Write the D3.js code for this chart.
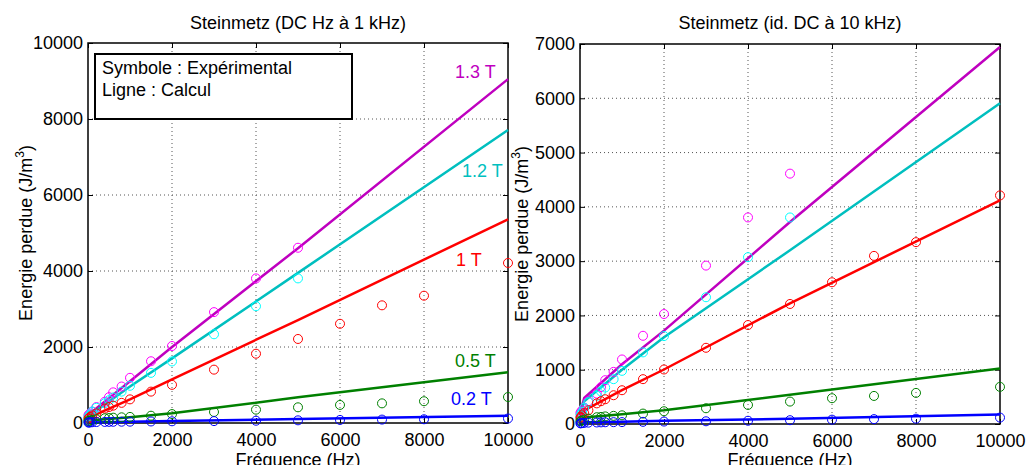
<!DOCTYPE html>
<html><head><meta charset="utf-8">
<script src="https://cdn.jsdelivr.net/npm/d3@7"></script>
<style>
html,body{margin:0;padding:0;background:#fff;}
svg text{font-family:"Liberation Sans",Arial,Helvetica,sans-serif;}
</style></head>
<body><svg id="c" width="1026" height="465"></svg>
<script>
// Experimental frequencies (Hz)
const freqs = [10, 20, 50, 100, 200, 400, 500, 600, 800, 1000, 1500, 2000, 3000, 4000, 5000, 6000, 7000, 8000, 10000];
// Experimental energy (J/m^3) per induction level
const exp13 = [200, 220, 250, 300, 420, 560, 680, 807, 960, 1189, 1625, 2026, 2918, 3805, 4612];
const exp12 = [150, 180, 220, 300, 400, 520, 600, 672, 826, 979, 1319, 1620, 2335, 3073, 3805];
const exp10 = [110, 130, 160, 200, 253, 380, 420, 456, 530, 622, 826, 1004, 1404, 1823, 2211, 2611, 3097, 3350, 4211];
const exp05 = [50, 55, 65, 80, 100, 125, 130, 140, 150, 160, 192, 235, 290, 351, 413, 475, 517, 573, 684];
const exp02 = [12, 14, 16, 20, 25, 28, 30, 32, 34, 35, 40, 45, 50, 60, 70, 80, 90, 98, 118];
// Calculated curves
const calcFreqs = [10, 100, 1000, 2000, 5000, 10000];
const calcA13 = [200, 300, 1100, 2000, 4600, 9050];
const calcA12 = [150, 250, 960, 1700, 3950, 7710];
const calcA10 = [100, 180, 620, 1150, 2710, 5360];
const calcA05 = [50, 70, 150, 255, 675, 1334];
const calcA02 = [10, 15, 30, 50, 103, 192];
const calcB13 = [220, 480, 1100, 1720, 3720, 6945];
const calcB12 = [180, 420, 1000, 1600, 3200, 5910];
const calcB10 = [100, 250, 622, 1004, 2224, 4119];
const calcB05 = [60, 120, 180, 253, 540, 1023];
const calcB02 = [15, 30, 40, 60, 95, 173];
const levelLabels = ["1.3 T", "1.2 T", "1 T", "0.5 T", "0.2 T"];
const xTicks = [0, 2000, 4000, 6000, 8000, 10000];
const yTicksA = [0, 2000, 4000, 6000, 8000, 10000];
const yTicksB = [0, 1000, 2000, 3000, 4000, 5000, 6000, 7000];
const titles = ["Steinmetz (DC Hz à 1 kHz)", "Steinmetz (id. DC à 10 kHz)"];
const legendLines = ["Symbole : Expérimental", "Ligne : Calcul"];

const lineColors = ["#bf00bf", "#00bfbf", "#ff0000", "#008000", "#0000ff"];
const markColors = ["#ff00ff", "#00ffff", "#ff0000", "#008000", "#0000ff"];
const expSeries = [exp13, exp12, exp10, exp05, exp02];

const svg = d3.select("#c");

function panel(cfg) {
  const x = d3.scaleLinear().domain([0, 10000]).range([cfg.x0, cfg.x1]);
  const y = d3.scaleLinear().domain([0, cfg.ymax]).range([cfg.y1, cfg.y0]);
  const g = svg.append("g");
  // grid
  g.selectAll(".gx").data(xTicks.slice(1, -1)).join("line")
    .attr("x1", d => x(d)).attr("x2", d => x(d)).attr("y1", cfg.y0).attr("y2", cfg.y1)
    .attr("stroke", "#555").attr("stroke-width", 1).attr("stroke-dasharray", "1,3");
  g.selectAll(".gy").data(cfg.yTicks.slice(1, -1)).join("line")
    .attr("y1", d => y(d)).attr("y2", d => y(d)).attr("x1", cfg.x0).attr("x2", cfg.x1)
    .attr("stroke", "#555").attr("stroke-width", 1).attr("stroke-dasharray", "1,3");
  // axes (MATLAB style, inward ticks)
  const tk = 5;
  const axB = d3.axisBottom(x).tickValues(xTicks).tickSize(tk).tickFormat(d3.format("d"));
  const axL = d3.axisLeft(y).tickValues(cfg.yTicks).tickSize(tk).tickFormat(d3.format("d"));
  const gb = g.append("g").attr("transform", `translate(0,${cfg.y1})`).call(axB);
  gb.selectAll(".tick line").attr("y2", -tk);
  gb.selectAll(".tick text").attr("y", 10).attr("dy", "0.71em");
  const gl = g.append("g").attr("transform", `translate(${cfg.x0},0)`).call(axL);
  gl.selectAll(".tick line").attr("x2", tk);
  gl.selectAll(".tick text").attr("x", -5);
  const gt = g.append("g").attr("transform", `translate(0,${cfg.y0})`).call(d3.axisTop(x).tickValues(xTicks).tickSize(tk).tickFormat(""));
  gt.selectAll(".tick line").attr("y2", tk);
  const gr = g.append("g").attr("transform", `translate(${cfg.x1},0)`).call(d3.axisRight(y).tickValues(cfg.yTicks).tickSize(tk).tickFormat(""));
  gr.selectAll(".tick line").attr("x2", -tk);
  [gb, gl, gt, gr].forEach(a => {
    a.select(".domain").remove();
    a.selectAll(".tick line").attr("stroke", "#000");
    a.selectAll(".tick text").attr("font-size", 18).attr("fill", "#000")
      .attr("font-family", "'Liberation Sans',Arial,sans-serif");
  });
  g.append("rect").attr("x", cfg.x0).attr("y", cfg.y0).attr("width", cfg.x1 - cfg.x0).attr("height", cfg.y1 - cfg.y0)
    .attr("fill", "none").attr("stroke", "#000").attr("stroke-width", 1.5);
  // calculated lines
  const line = d3.line().x((d, i) => x(calcFreqs[i])).y(d => y(d));
  cfg.calc.forEach((arr, k) => {
    g.append("path").attr("d", line(arr)).attr("fill", "none")
      .attr("stroke", lineColors[k]).attr("stroke-width", 2.5);
  });
  // experimental markers
  expSeries.forEach((arr, k) => {
    g.selectAll(null).data(arr).join("circle")
      .attr("cx", (d, i) => x(freqs[i])).attr("cy", d => y(d)).attr("r", 4.5)
      .attr("fill", "none").attr("stroke", markColors[k]).attr("stroke-width", 1);
  });
  // title
  g.append("text").attr("x", (cfg.x0 + cfg.x1) / 2).attr("y", 29).attr("text-anchor", "middle")
    .attr("font-size", 18).text(cfg.title);
  // x label
  g.append("text").attr("x", (cfg.x0 + cfg.x1) / 2).attr("y", 466).attr("text-anchor", "middle")
    .attr("font-size", 18).text("Fréquence (Hz)");
  // y label
  const yl = g.append("text").attr("transform", `translate(${cfg.ylx},${(cfg.y0 + cfg.y1) / 2}) rotate(-90)`)
    .attr("text-anchor", "middle").attr("font-size", 18);
  yl.append("tspan").text("Energie perdue (J/m");
  yl.append("tspan").attr("dy", -8).attr("font-size", 12).text("3");
  yl.append("tspan").attr("dy", 8).text(")");
  return {g, x, y};
}

const A = panel({x0: 88, x1: 508, y0: 43, y1: 423, ymax: 10000, yTicks: yTicksA, title: titles[0], ylx: 32,
  calc: [calcA13, calcA12, calcA10, calcA05, calcA02]});
panel({x0: 580, x1: 1000, y0: 44, y1: 424, ymax: 7000, yTicks: yTicksB, title: titles[1], ylx: 528,
  calc: [calcB13, calcB12, calcB10, calcB05, calcB02]});

// level labels on left panel
const labelPos = [[455, 78], [462, 177], [456, 266], [455, 367], [451, 405]];
levelLabels.forEach((t, k) => {
  A.g.append("text").attr("x", labelPos[k][0]).attr("y", labelPos[k][1]).attr("font-size", 18)
    .attr("fill", lineColors[k]).text(t);
});
// legend box
A.g.append("rect").attr("x", 95).attr("y", 54).attr("width", 257).attr("height", 65)
  .attr("fill", "#fff").attr("stroke", "#000").attr("stroke-width", 2);
legendLines.forEach((t, i) => {
  A.g.append("text").attr("x", 102).attr("y", 74 + i * 22).attr("font-size", 18).text(t);
});
</script></body></html>
